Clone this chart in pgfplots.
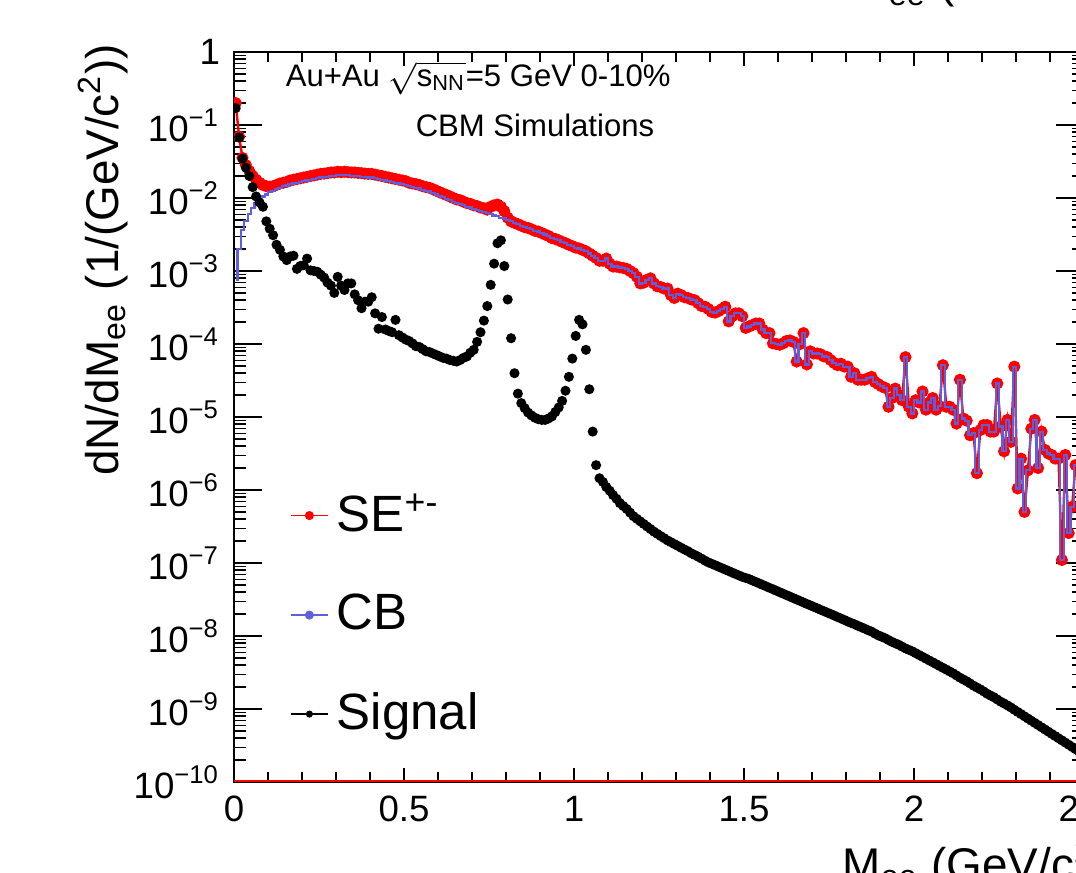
\documentclass[border=0pt]{standalone}
\usepackage{pgfplots}
\pgfplotsset{compat=1.18}
\usepackage{pgfplotstable}
\usepackage{amsmath}
\usepackage{fontspec}
\setmainfont{Liberation Sans}
\definecolor{cbblue}{RGB}{95,95,222}

\pgfplotstableread{
x se cb
0.005 2.00e-1 7.59e-4
0.015 6.92e-2 2.00e-3
0.025 3.55e-2 3.63e-3
0.035 2.82e-2 4.90e-3
0.045 2.34e-2 6.03e-3
0.055 2.00e-2 7.24e-3
0.065 1.78e-2 8.51e-3
0.075 1.62e-2 9.55e-3
0.085 1.51e-2 1.05e-2
0.095 1.45e-2 1.12e-2
0.105 1.43e-2 1.20e-2
0.115 1.45e-2 1.26e-2
0.125 1.51e-2 1.32e-2
0.135 1.58e-2 1.38e-2
0.145 1.62e-2 1.45e-2
0.155 1.66e-2 1.48e-2
0.165 1.74e-2 1.55e-2
0.175 1.78e-2 1.58e-2
0.185 1.82e-2 1.62e-2
0.195 1.86e-2 1.66e-2
0.205 1.91e-2 1.70e-2
0.215 1.95e-2 1.74e-2
0.225 2.00e-2 1.78e-2
0.235 2.04e-2 1.82e-2
0.245 2.09e-2 1.86e-2
0.255 2.14e-2 1.91e-2
0.265 2.16e-2 1.93e-2
0.275 2.19e-2 1.95e-2
0.285 2.24e-2 2.00e-2
0.295 2.24e-2 2.00e-2
0.305 2.29e-2 2.04e-2
0.315 2.26e-2 2.04e-2
0.325 2.29e-2 2.04e-2
0.335 2.26e-2 2.04e-2
0.345 2.24e-2 2.00e-2
0.355 2.24e-2 2.00e-2
0.365 2.21e-2 2.00e-2
0.375 2.19e-2 1.95e-2
0.385 2.16e-2 1.95e-2
0.395 2.14e-2 1.91e-2
0.405 2.14e-2 1.91e-2
0.415 2.09e-2 1.86e-2
0.425 2.04e-2 1.82e-2
0.435 2.00e-2 1.78e-2
0.445 1.95e-2 1.74e-2
0.455 1.91e-2 1.70e-2
0.465 1.86e-2 1.66e-2
0.475 1.82e-2 1.62e-2
0.485 1.78e-2 1.58e-2
0.495 1.74e-2 1.55e-2
0.505 1.70e-2 1.51e-2
0.515 1.62e-2 1.45e-2
0.525 1.58e-2 1.41e-2
0.535 1.55e-2 1.38e-2
0.545 1.51e-2 1.35e-2
0.555 1.45e-2 1.29e-2
0.565 1.41e-2 1.26e-2
0.575 1.38e-2 1.23e-2
0.585 1.32e-2 1.17e-2
0.595 1.26e-2 1.12e-2
0.605 1.20e-2 1.07e-2
0.615 1.15e-2 1.02e-2
0.625 1.10e-2 9.77e-3
0.635 1.05e-2 9.33e-3
0.645 1.00e-2 8.91e-3
0.655 9.55e-3 8.51e-3
0.665 9.33e-3 8.32e-3
0.675 8.91e-3 7.94e-3
0.685 8.51e-3 7.59e-3
0.695 8.32e-3 7.41e-3
0.705 7.94e-3 7.08e-3
0.715 7.76e-3 6.92e-3
0.725 7.41e-3 6.61e-3
0.735 7.24e-3 6.46e-3
0.745 6.92e-3 6.17e-3
0.755 7.59e-3 6.03e-3
0.765 7.94e-3 5.75e-3
0.775 8.13e-3 5.62e-3
0.785 7.59e-3 5.37e-3
0.795 6.61e-3 5.25e-3
0.805 5.37e-3 5.01e-3
0.815 4.79e-3 4.79e-3
0.825 4.57e-3 4.57e-3
0.835 4.37e-3 4.37e-3
0.845 4.17e-3 4.17e-3
0.855 3.98e-3 3.98e-3
0.865 3.89e-3 3.89e-3
0.875 3.72e-3 3.72e-3
0.885 3.55e-3 3.55e-3
0.895 3.47e-3 3.47e-3
0.905 3.31e-3 3.31e-3
0.915 3.16e-3 3.16e-3
0.925 3.02e-3 3.02e-3
0.935 2.82e-3 2.82e-3
0.945 2.75e-3 2.75e-3
0.955 2.63e-3 2.63e-3
0.965 2.51e-3 2.51e-3
0.975 2.40e-3 2.40e-3
0.985 2.29e-3 2.29e-3
0.995 2.19e-3 2.19e-3
1.005 2.09e-3 2.09e-3
1.015 2.04e-3 2.04e-3
1.025 1.95e-3 1.95e-3
1.035 1.86e-3 1.86e-3
1.045 1.74e-3 1.74e-3
1.055 1.62e-3 1.62e-3
1.065 1.51e-3 1.51e-3
1.075 1.38e-3 1.38e-3
1.085 1.38e-3 1.38e-3
1.095 1.48e-3 1.48e-3
1.105 1.26e-3 1.26e-3
1.115 1.15e-3 1.15e-3
1.125 1.15e-3 1.15e-3
1.135 1.12e-3 1.12e-3
1.145 1.10e-3 1.10e-3
1.155 1.07e-3 1.07e-3
1.165 1.00e-3 1.00e-3
1.175 9.33e-4 9.33e-4
1.185 8.32e-4 8.32e-4
1.195 6.76e-4 6.76e-4
1.205 6.92e-4 6.92e-4
1.215 7.59e-4 7.59e-4
1.225 7.94e-4 7.94e-4
1.235 6.76e-4 6.76e-4
1.245 6.17e-4 6.17e-4
1.255 6.03e-4 6.03e-4
1.265 5.75e-4 5.75e-4
1.275 5.75e-4 5.75e-4
1.285 4.68e-4 4.68e-4
1.295 4.27e-4 4.27e-4
1.305 4.90e-4 4.90e-4
1.315 4.68e-4 4.68e-4
1.325 4.37e-4 4.37e-4
1.335 4.27e-4 4.27e-4
1.345 4.07e-4 4.07e-4
1.355 3.98e-4 3.98e-4
1.365 3.63e-4 3.63e-4
1.375 3.31e-4 3.31e-4
1.385 3.24e-4 3.24e-4
1.395 3.02e-4 3.02e-4
1.405 2.75e-4 2.75e-4
1.415 2.69e-4 2.69e-4
1.425 2.82e-4 2.82e-4
1.435 3.02e-4 3.02e-4
1.445 3.24e-4 3.24e-4
1.455 2.04e-4 2.04e-4
1.465 2.40e-4 2.40e-4
1.475 2.63e-4 2.63e-4
1.485 2.63e-4 2.63e-4
1.495 2.40e-4 2.40e-4
1.505 1.66e-4 1.66e-4
1.515 1.74e-4 1.74e-4
1.525 1.82e-4 1.82e-4
1.535 1.91e-4 1.91e-4
1.545 1.91e-4 1.91e-4
1.555 1.58e-4 1.58e-4
1.565 1.41e-4 1.41e-4
1.575 1.41e-4 1.41e-4
1.585 1.02e-4 1.02e-4
1.595 1.00e-4 1.00e-4
1.605 9.77e-5 9.77e-5
1.615 1.02e-4 1.02e-4
1.625 1.10e-4 1.10e-4
1.635 1.12e-4 1.12e-4
1.645 1.07e-4 1.07e-4
1.655 5.75e-5 5.75e-5
1.665 1.00e-4 1.00e-4
1.675 1.41e-4 1.41e-4
1.685 5.25e-5 5.25e-5
1.695 7.94e-5 7.94e-5
1.705 7.41e-5 7.41e-5
1.715 7.41e-5 7.41e-5
1.725 7.24e-5 7.24e-5
1.735 6.76e-5 6.76e-5
1.745 6.61e-5 6.61e-5
1.755 6.03e-5 6.03e-5
1.765 5.50e-5 5.50e-5
1.775 5.13e-5 5.13e-5
1.785 5.37e-5 5.37e-5
1.795 4.90e-5 4.90e-5
1.805 4.90e-5 4.90e-5
1.815 3.55e-5 3.55e-5
1.825 3.98e-5 3.98e-5
1.835 3.24e-5 3.24e-5
1.845 3.24e-5 3.24e-5
1.855 3.24e-5 3.24e-5
1.865 3.39e-5 3.39e-5
1.875 3.55e-5 3.55e-5
1.885 3.02e-5 3.02e-5
1.895 2.82e-5 2.82e-5
1.905 2.63e-5 2.63e-5
1.915 2.51e-5 2.51e-5
1.925 1.38e-5 1.38e-5
1.935 1.82e-5 1.82e-5
1.945 2.45e-5 2.45e-5
1.955 2.00e-5 2.00e-5
1.965 1.70e-5 1.70e-5
1.975 6.61e-5 6.61e-5
1.985 1.38e-5 1.38e-5
1.995 1.12e-5 1.12e-5
2.005 1.70e-5 1.70e-5
2.015 1.58e-5 1.58e-5
2.025 2.24e-5 2.24e-5
2.035 1.26e-5 1.26e-5
2.045 1.58e-5 1.58e-5
2.055 1.82e-5 1.82e-5
2.065 1.26e-5 1.26e-5
2.075 1.41e-5 1.41e-5
2.085 5.13e-5 5.13e-5
2.095 1.38e-5 1.38e-5
2.105 1.38e-5 1.38e-5
2.115 1.26e-5 1.26e-5
2.125 8.13e-6 8.13e-6
2.135 3.24e-5 3.24e-5
2.145 9.55e-6 9.55e-6
2.155 8.91e-6 8.91e-6
2.165 5.62e-6 5.62e-6
2.175 6.03e-6 6.03e-6
2.185 1.70e-6 1.70e-6
2.195 6.61e-6 6.61e-6
2.205 7.76e-6 7.76e-6
2.215 7.76e-6 7.76e-6
2.225 6.31e-6 6.31e-6
2.235 6.31e-6 6.31e-6
2.245 2.88e-5 2.88e-5
2.255 7.41e-6 7.41e-6
2.265 3.39e-6 3.39e-6
2.275 9.12e-6 9.12e-6
2.285 4.57e-6 4.57e-6
2.295 4.90e-5 4.90e-5
2.305 1.05e-6 1.05e-6
2.315 2.69e-6 2.69e-6
2.325 5.01e-7 5.01e-7
2.335 1.86e-6 1.86e-6
2.345 6.92e-6 6.92e-6
2.355 9.12e-6 9.12e-6
2.365 2.00e-6 2.00e-6
2.375 6.31e-6 6.31e-6
2.385 3.55e-6 3.55e-6
2.395 3.16e-6 3.16e-6
2.405 3.02e-6 3.02e-6
2.415 2.69e-6 2.69e-6
2.425 2.69e-6 2.69e-6
2.435 1.10e-7 1.10e-7
2.445 3.02e-6 3.02e-6
2.455 2.57e-7 2.57e-7
2.465 5.89e-7 5.89e-7
2.475 2.19e-6 2.19e-6
2.485 2.00e-6 2.00e-6
2.495 1.58e-6 1.58e-6
}\bgtable

\pgfplotstableread{
x y
0.005 1.70e-1
0.015 6.76e-2
0.025 3.47e-2
0.035 2.60e-2
0.045 2.00e-2
0.055 1.41e-2
0.065 1.05e-2
0.075 8.71e-3
0.085 7.59e-3
0.095 4.79e-3
0.105 3.80e-3
0.115 3.09e-3
0.125 2.29e-3
0.135 1.95e-3
0.145 1.58e-3
0.155 1.41e-3
0.165 1.58e-3
0.175 1.62e-3
0.185 1.07e-3
0.195 1.17e-3
0.205 1.20e-3
0.215 1.48e-3
0.225 1.02e-3
0.235 1.00e-3
0.245 9.77e-4
0.255 8.91e-4
0.265 8.13e-4
0.275 6.92e-4
0.285 6.31e-4
0.295 5.01e-4
0.305 8.32e-4
0.315 6.31e-4
0.325 5.50e-4
0.335 6.76e-4
0.345 6.76e-4
0.355 4.79e-4
0.365 3.98e-4
0.375 3.09e-4
0.385 3.80e-4
0.395 3.80e-4
0.405 4.37e-4
0.415 2.63e-4
0.425 1.62e-4
0.435 2.34e-4
0.445 1.58e-4
0.455 1.51e-4
0.465 1.45e-4
0.475 2.14e-4
0.485 1.32e-4
0.495 1.23e-4
0.505 1.15e-4
0.515 1.10e-4
0.525 1.02e-4
0.535 9.33e-5
0.545 9.12e-5
0.555 8.51e-5
0.565 7.94e-5
0.575 7.76e-5
0.585 7.41e-5
0.595 7.08e-5
0.605 6.76e-5
0.615 6.46e-5
0.625 6.31e-5
0.635 6.03e-5
0.645 5.89e-5
0.655 5.75e-5
0.665 6.03e-5
0.675 6.46e-5
0.685 6.76e-5
0.695 7.59e-5
0.705 8.32e-5
0.715 1.07e-4
0.725 1.45e-4
0.735 2.09e-4
0.745 3.31e-4
0.755 6.46e-4
0.765 1.26e-3
0.775 2.40e-3
0.785 2.63e-3
0.795 1.17e-3
0.805 4.07e-4
0.815 1.20e-4
0.825 3.98e-5
0.835 2.09e-5
0.845 1.55e-5
0.855 1.32e-5
0.865 1.15e-5
0.875 1.05e-5
0.885 9.77e-6
0.895 9.33e-6
0.905 9.12e-6
0.915 9.12e-6
0.925 9.55e-6
0.935 1.02e-5
0.945 1.17e-5
0.955 1.35e-5
0.965 1.66e-5
0.975 2.29e-5
0.985 3.55e-5
0.995 6.31e-5
1.005 1.29e-4
1.015 2.14e-4
1.025 1.86e-4
1.035 8.32e-5
1.045 2.40e-5
1.055 6.31e-6
1.065 2.19e-6
1.075 1.45e-6
1.085 1.29e-6
1.095 1.10e-6
1.105 9.77e-7
1.115 8.51e-7
1.125 7.59e-7
1.135 6.61e-7
1.145 6.03e-7
1.155 5.50e-7
1.165 4.90e-7
1.175 4.37e-7
1.185 4.03e-7
1.195 3.72e-7
1.205 3.43e-7
1.215 3.16e-7
1.225 2.92e-7
1.235 2.69e-7
1.245 2.51e-7
1.255 2.34e-7
1.265 2.19e-7
1.275 2.04e-7
1.285 1.93e-7
1.295 1.82e-7
1.305 1.72e-7
1.315 1.62e-7
1.325 1.53e-7
1.335 1.45e-7
1.345 1.36e-7
1.355 1.29e-7
1.365 1.22e-7
1.375 1.15e-7
1.385 1.08e-7
1.395 1.02e-7
1.405 9.77e-8
1.415 9.33e-8
1.425 8.91e-8
1.435 8.51e-8
1.445 8.13e-8
1.455 7.76e-8
1.465 7.41e-8
1.475 7.08e-8
1.485 6.76e-8
1.495 6.46e-8
1.505 6.24e-8
1.515 6.03e-8
1.525 5.75e-8
1.535 5.50e-8
1.545 5.25e-8
1.555 5.01e-8
1.565 4.79e-8
1.575 4.57e-8
1.585 4.37e-8
1.595 4.17e-8
1.605 3.98e-8
1.615 3.80e-8
1.625 3.63e-8
1.635 3.47e-8
1.645 3.31e-8
1.655 3.16e-8
1.665 3.02e-8
1.675 2.88e-8
1.685 2.75e-8
1.695 2.63e-8
1.705 2.51e-8
1.715 2.40e-8
1.725 2.29e-8
1.735 2.19e-8
1.745 2.09e-8
1.755 2.00e-8
1.765 1.91e-8
1.775 1.82e-8
1.785 1.74e-8
1.795 1.66e-8
1.805 1.58e-8
1.815 1.51e-8
1.825 1.45e-8
1.835 1.38e-8
1.845 1.32e-8
1.855 1.26e-8
1.865 1.20e-8
1.875 1.15e-8
1.885 1.08e-8
1.895 1.02e-8
1.905 9.77e-9
1.915 9.33e-9
1.925 8.81e-9
1.935 8.32e-9
1.945 7.94e-9
1.955 7.59e-9
1.965 7.16e-9
1.975 6.76e-9
1.985 6.46e-9
1.995 6.17e-9
2.005 5.82e-9
2.015 5.50e-9
2.025 5.19e-9
2.035 4.90e-9
2.045 4.62e-9
2.055 4.37e-9
2.065 4.12e-9
2.075 3.89e-9
2.085 3.67e-9
2.095 3.47e-9
2.105 3.27e-9
2.115 3.09e-9
2.125 2.88e-9
2.135 2.69e-9
2.145 2.54e-9
2.155 2.40e-9
2.165 2.24e-9
2.175 2.09e-9
2.185 1.97e-9
2.195 1.86e-9
2.205 1.74e-9
2.215 1.62e-9
2.225 1.53e-9
2.235 1.45e-9
2.245 1.35e-9
2.255 1.26e-9
2.265 1.19e-9
2.275 1.12e-9
2.285 1.05e-9
2.295 9.77e-10
2.305 9.12e-10
2.315 8.51e-10
2.325 7.94e-10
2.335 7.41e-10
2.345 6.92e-10
2.355 6.46e-10
2.365 6.03e-10
2.375 5.62e-10
2.385 5.25e-10
2.395 4.90e-10
2.405 4.57e-10
2.415 4.27e-10
2.425 3.98e-10
2.435 3.72e-10
2.445 3.47e-10
2.455 3.24e-10
2.465 3.02e-10
2.475 2.82e-10
2.485 2.63e-10
2.495 2.45e-10
}\sigtable

\begin{document}
\begin{tikzpicture}
\useasboundingbox (0,0) rectangle (269bp,218.25bp);
\clip (0,0) rectangle (269bp,218.25bp);
\begin{axis}[
  at={(58.5bp,22.75bp)}, anchor=south west,
  scale only axis, width=212.5bp, height=182.5bp,
  xmin=0, xmax=2.5, ymode=log, ymin=1e-10, ymax=1,
  clip=true, clip marker paths=true,
  axis line style={black, line width=0.35bp},
  tick align=inside,
  tick style={black, line width=0.3bp},
  major tick length=7bp, minor tick length=3bp,
  every major x tick/.append style={/pgfplots/major tick length=3.4bp},
  every minor x tick/.append style={/pgfplots/minor tick length=2.5bp},
  xtick={0,0.5,1,1.5,2,2.5},
  xticklabels={0,0.5,1,1.5,2,2.5},
  minor x tick num=4,
  extra x ticks={0,1,2}, extra x tick labels={},
  extra x tick style={/pgfplots/major tick length=5bp},
  ytick={1e-10,1e-9,1e-8,1e-7,1e-6,1e-5,1e-4,1e-3,1e-2,1e-1,1},
  yticklabels={10\textsuperscript{−10},10\textsuperscript{−9},10\textsuperscript{−8},10\textsuperscript{−7},10\textsuperscript{−6},10\textsuperscript{−5},10\textsuperscript{−4},10\textsuperscript{−3},10\textsuperscript{−2},10\textsuperscript{−1},1},
  tick label style={font=\fontsize{9.2}{11}\selectfont},
  legend image code/.code={\draw[mark repeat=2,mark phase=2,#1] plot coordinates {(0bp,0bp) (4.6bp,0bp) (9.2bp,0bp)};},
  legend style={draw=none, fill=none, at={(0.051,0.418)}, anchor=north west,
    font=\fontsize{12.8}{14.5}\selectfont, row sep=10.2bp},
  legend cell align=left,
]
\addlegendimage{red, line width=0.45bp, mark=*, mark size=0.9bp}
\addlegendentry{SE\textsuperscript{+-}}
\addlegendimage{cbblue, line width=0.45bp, mark=*, mark size=0.9bp}
\addlegendentry{CB}
\addlegendimage{black, line width=0.45bp, mark=*, mark size=0.65bp}
\addlegendentry{Signal}

\addplot[red, line width=0.5bp, forget plot] coordinates {(0,1.035e-10) (2.5,1.035e-10)};
\addplot[red, line width=0.6bp, mark=*, mark size=1.2bp, mark options={fill=red}, forget plot] table[x=x, y=se] {\bgtable};
\addplot[cbblue, line width=0.55bp, const plot mark mid, no marks, forget plot] table[x=x, y=cb] {\bgtable};
\addplot[black, only marks, mark=*, mark size=1.05bp, forget plot] table[x=x, y=y] {\sigtable};
\end{axis}
\node[anchor=base west, inner sep=0pt, font=\fontsize{7.8}{9}\selectfont] at (71.25bp,196.5bp) {Au+Au $\sqrt{\text{s}_{\text{NN}}}$=5 GeV 0-10\%};
\node[anchor=base west, inner sep=0pt, font=\fontsize{7.8}{9}\selectfont] at (103.75bp,184bp) {CBM Simulations};
\node[rotate=90, anchor=east, inner sep=0pt, font=\fontsize{11.5}{13}\selectfont] at (25.75bp,207.5bp) {dN/dM\textsubscript{ee} (1/(GeV/c\textsuperscript{2}))};
\node[anchor=base west, inner sep=0pt, font=\fontsize{11.5}{13}\selectfont] at (210.5bp,-1.75bp) {M\textsubscript{ee} (GeV/c\textsuperscript{2})};
\node[anchor=base west, inner sep=0pt, font=\fontsize{11.5}{13}\selectfont] at (212.5bp,218.75bp) {M\textsubscript{ee} (GeV/c\textsuperscript{2})};
\end{tikzpicture}
\end{document}
